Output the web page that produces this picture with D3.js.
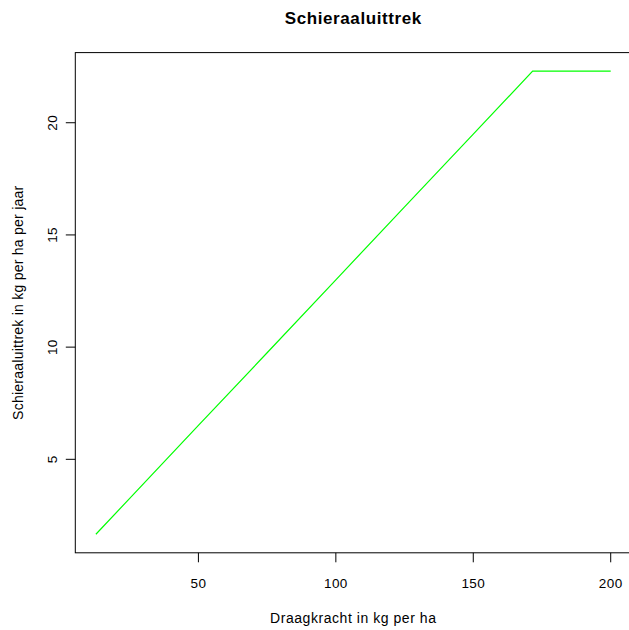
<!DOCTYPE html>
<html>
<head>
<meta charset="utf-8">
<script src="https://cdn.jsdelivr.net/npm/d3@7"></script>
<style>
  body { margin: 0; background: #fff; }
  svg text { font-family: "Liberation Sans", Arial, sans-serif; fill: #000; }
</style>
</head>
<body>
<svg id="chart" width="629" height="630"></svg>
<script>
// draagkracht (kg/ha) vs schieraaluittrek (kg/ha/jaar)
const draagkracht = [12.7, 25, 50, 75, 100, 125, 150, 171.6, 185, 200];
const uittrek = [1.66, 3.26, 6.51, 9.75, 13.0, 16.25, 19.49, 22.3, 22.3, 22.3];
const xTicks = [50, 100, 150, 200];
const yTicks = [5, 10, 15, 20];

const svg = d3.select("#chart");

const box = { left: 75.3, right: 631.3, top: 52.6, bottom: 552.8 };

// R style 4% padding around the data range
function padded(values) {
  let [lo, hi] = d3.extent(values);
  let pad = (hi - lo) * 0.04;
  return [lo - pad, hi + pad];
}

const x = d3.scaleLinear().domain(padded(draagkracht)).range([box.left, box.right]);
const y = d3.scaleLinear().domain(padded(uittrek)).range([box.bottom, box.top]);

// x axis
let xAxis = svg.append("g");
xAxis.selectAll("line.tick")
  .data(xTicks)
  .join("line")
  .attr("class", "tick")
  .attr("x1", (d) => x(d)).attr("x2", (d) => x(d))
  .attr("y1", box.bottom).attr("y2", box.bottom + 9.5)
  .attr("stroke", "#000");
xAxis.selectAll("text")
  .data(xTicks)
  .join("text")
  .attr("x", (d) => x(d))
  .attr("y", 588)
  .attr("text-anchor", "middle")
  .attr("font-size", 13.5)
  .attr("letter-spacing", 0.4)
  .text((d) => d);

// y axis
let yAxis = svg.append("g");
yAxis.selectAll("line.tick")
  .data(yTicks)
  .join("line")
  .attr("class", "tick")
  .attr("x1", box.left - 9.5).attr("x2", box.left)
  .attr("y1", (d) => y(d)).attr("y2", (d) => y(d))
  .attr("stroke", "#000");
yAxis.selectAll("text")
  .data(yTicks)
  .join("text")
  .attr("transform", (d) => `translate(56.5,${y(d)}) rotate(-90)`)
  .attr("text-anchor", "middle")
  .attr("font-size", 13.5)
  .attr("letter-spacing", 0.4)
  .text((d) => d);

// plot box
svg.append("rect")
  .attr("x", box.left).attr("y", box.top)
  .attr("width", box.right - box.left).attr("height", box.bottom - box.top)
  .attr("fill", "none").attr("stroke", "#000");

// the line
const line = d3.line()
  .x((d, i) => x(draagkracht[i]))
  .y((d) => y(d));
svg.append("path")
  .datum(uittrek)
  .attr("d", line)
  .attr("fill", "none")
  .attr("stroke", "#00ff00")
  .attr("stroke-width", 1.2);

// titles
svg.append("text")
  .attr("x", (box.left + box.right) / 2).attr("y", 24)
  .attr("text-anchor", "middle")
  .attr("font-size", 17)
  .attr("font-weight", "bold")
  .attr("letter-spacing", 0.6)
  .text("Schieraaluittrek");

svg.append("text")
  .attr("x", (box.left + box.right) / 2).attr("y", 623)
  .attr("text-anchor", "middle")
  .attr("font-size", 14)
  .attr("letter-spacing", 0.55)
  .text("Draagkracht in kg per ha");

svg.append("text")
  .attr("transform", `translate(23,${(box.top + box.bottom) / 2}) rotate(-90)`)
  .attr("text-anchor", "middle")
  .attr("font-size", 14)
  .attr("letter-spacing", 0.25)
  .text("Schieraaluittrek in kg per ha per jaar");
</script>
</body>
</html>
